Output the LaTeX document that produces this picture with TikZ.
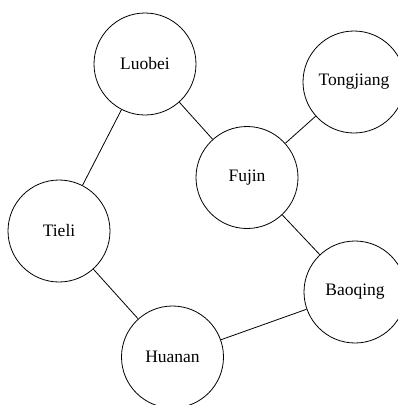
\documentclass[tikz,border=0pt]{standalone}
\usepackage{fontspec}
\setmainfont{Liberation Serif}
\begin{document}
\begin{tikzpicture}[x=1pt,y=-1pt,
  city/.style={draw, circle, minimum size=102pt, inner sep=0pt, line width=0.8pt, font=\fontsize{17.5}{20}\selectfont},
  road/.style={line width=0.8pt}]
\useasboundingbox (0,0) rectangle (398,405);
\node[city] (luobei) at (145,64) {Luobei};
\node[city] (tongjiang) at (354,82) {Tongjiang};
\node[city] (fujin) at (247,177.5) {Fujin};
\node[city] (tieli) at (59,231) {Tieli};
\node[city] (baoqing) at (355,292) {Baoqing};
\node[city] (huanan) at (172.5,357) {Huanan};
\draw[road] (luobei) -- (fujin);
\draw[road] (luobei) -- (tieli);
\draw[road] (tongjiang) -- (fujin);
\draw[road] (fujin) -- (baoqing);
\draw[road] (tieli) -- (huanan);
\draw[road] (huanan) -- (baoqing);
\end{tikzpicture}
\end{document}
